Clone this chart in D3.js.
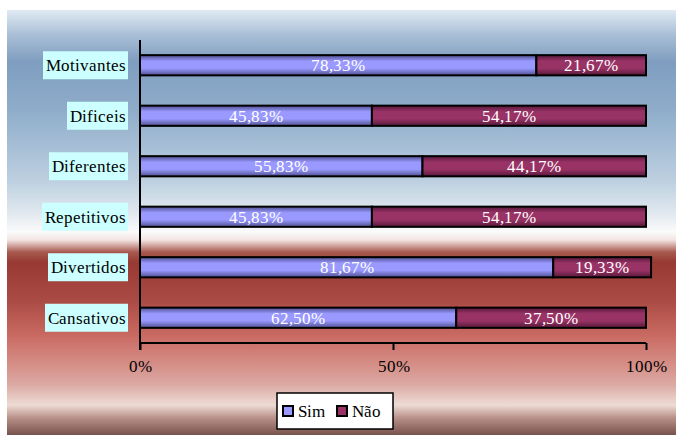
<!DOCTYPE html>
<html><head><meta charset="utf-8">
<script src="https://cdn.jsdelivr.net/npm/d3@7"></script>
<style>
@font-face{font-family:"RefSerif";src:local("Liberation Serif"),local("LiberationSerif"),local("LiberationSerif-Regular"),local("Liberation Serif Regular"),local("Times New Roman"),local("DejaVu Serif"),local("DejaVuSerif"),local("Noto Serif");}
body{margin:0;background:#fff}svg{display:block}
svg text{font-family:"RefSerif","Liberation Serif","Times New Roman",Times,"DejaVu Serif",serif;}</style>
</head><body>
<script>
const categories = ["Motivantes","Dificeis","Diferentes","Repetitivos","Divertidos","Cansativos"];
const simValues = [78.33,45.83,55.83,45.83,81.67,62.50];
const naoValues = [21.67,54.17,44.17,54.17,19.33,37.50];
const tickValues = [0,50,100];
const seriesNames = ["Sim","Não"];

const W=676,H=437;
const svg=d3.select("body").append("svg").attr("width",W).attr("height",H);
const defs=svg.append("defs");

// background gradient
const bg=defs.append("linearGradient").attr("id","bg").attr("gradientUnits","userSpaceOnUse")
 .attr("x1",0).attr("y1",10).attr("x2",0).attr("y2",435);
[[10,"#e0eaf3"],[35,"#a9bfd6"],[62,"#7f9dbf"],[110,"#8fadca"],[180,"#bccfe0"],[215,"#e3eaf0"],[232,"#fbfbfb"],[240,"#f2e4e2"],[252,"#a85a50"],[262,"#973a33"],[300,"#aa4a44"],[335,"#c96a62"],[365,"#d58f88"],[385,"#dcaaa4"],[405,"#eddcd4"],[418,"#b89088"],[435,"#77524c"]]
 .forEach(([y,c])=>bg.append("stop").attr("offset",((y-10)/425)).attr("stop-color",c));
svg.append("rect").attr("x",7).attr("y",10).attr("width",669).attr("height",425).attr("fill","url(#bg)");

function barGrad(id,base,dark){
  const g=defs.append("linearGradient").attr("id",id).attr("x1",0).attr("y1",0).attr("x2",0).attr("y2",1);
  [[0,dark],[0.3,base],[0.65,base],[1,dark]].forEach(([o,c])=>g.append("stop").attr("offset",o).attr("stop-color",c));
}
barGrad("gSim","#9999ff","#4f4f90");
barGrad("gNao","#993366","#55183a");
const fills=["url(#gSim)","url(#gNao)"];
const legendFills=["#9999ff","#993366"];

const x=d3.scaleLinear().domain([0,100]).range([140,646]);
const y=d3.scaleBand().domain(categories).range([40,343]).paddingInner(0.6).paddingOuter(0.3);

const rows=categories.map((c,i)=>({c,vals:[simValues[i],naoValues[i]]}));
rows.forEach(r=>{
  let acc=0;
  r.vals.forEach((v,k)=>{
    const x0=x(acc),x1=x(acc+v);
    svg.append("rect").attr("x",x0).attr("y",y(r.c)).attr("width",x1-x0).attr("height",y.bandwidth())
      .attr("fill",fills[k]).attr("stroke","#000").attr("stroke-width",2);
    svg.append("text").attr("x",(x0+x1)/2).attr("y",y(r.c)+y.bandwidth()/2+6)
      .attr("text-anchor","middle").attr("font-size",17).attr("fill","#fff")
      .text(v.toFixed(2).replace(".",",")+"%");
    acc+=v;
  });
});

// axes
const xAxis=d3.axisBottom(x).tickValues(tickValues).tickSize(7).tickFormat(d=>d+"%");
const gx=svg.append("g").attr("transform","translate(0,343)").call(xAxis);
gx.attr("font-family",null);
gx.select(".domain").attr("stroke","#000").attr("stroke-width",2).attr("d","M140,0H646");
gx.selectAll(".tick line").attr("stroke","#000").attr("stroke-width",2);
gx.selectAll(".tick text").attr("font-size",17).attr("fill","#000").attr("dy","1.1em").attr("y",10);

svg.append("line").attr("x1",140).attr("x2",140).attr("y1",40).attr("y2",350).attr("stroke","#000").attr("stroke-width",2);

// category labels
categories.forEach(c=>{
  const cy=y(c)+y.bandwidth()/2;
  const t=svg.append("text").attr("x",126).attr("y",cy+6).attr("text-anchor","end")
    .attr("font-size",17).attr("fill","#000").text(c);
  const bb=t.node().getBBox();
  svg.insert("rect","text").attr("x",bb.x-3).attr("y",cy-14).attr("width",bb.width+5).attr("height",28).attr("fill","#ccffff");
});

// legend
const lg=svg.append("g");
lg.append("rect").attr("x",277).attr("y",393).attr("width",116).attr("height",36).attr("fill","#fff").attr("stroke","#000").attr("stroke-width",1.5);
const lx=[283,337];
seriesNames.forEach((n,i)=>{
  lg.append("rect").attr("x",lx[i]).attr("y",406).attr("width",10).attr("height",10).attr("fill",legendFills[i]).attr("stroke","#000").attr("stroke-width",2);
  lg.append("text").attr("x",lx[i]+15).attr("y",417).attr("font-size",17).attr("fill","#000").text(n);
});
</script>
</body></html>
